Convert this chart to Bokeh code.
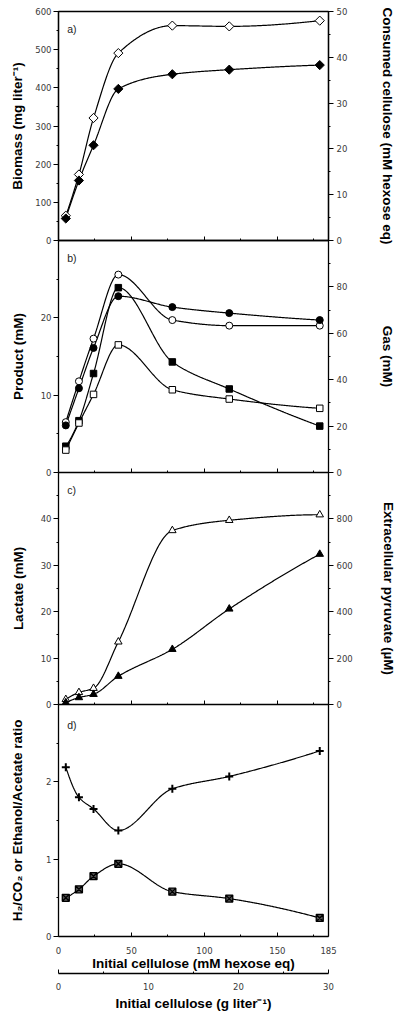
import numpy as np
from bokeh.plotting import figure
from bokeh.models import Range1d, LinearAxis, FixedTicker, Label
from bokeh.layouts import column
from bokeh.embed import file_html
from bokeh.resources import INLINE

# ---------------- data ----------------
cellulose_mM = [5, 14, 24, 41, 78, 117, 179]          # initial cellulose, mM hexose eq

# a) biomass (left) and consumed cellulose (right)
biomass_mg_l = [65, 173, 321, 491, 563, 561, 576]
consumed_mM = [4.8, 13.1, 20.8, 33.1, 36.3, 37.3, 38.3]

# b) products (left, mM) and gases (right, mM)
product_filled_sq = [3.4, 6.7, 12.8, 23.9, 14.3, 10.8, 6.0]
product_open_sq = [2.9, 6.4, 10.1, 16.5, 10.7, 9.5, 8.3]
gas_open_circle = [21.7, 39.3, 57.7, 85.3, 65.7, 63.3, 63.3]
gas_filled_circle = [20.3, 36.3, 53.7, 76.0, 71.3, 68.7, 65.7]

# c) lactate (left, mM) and extracellular pyruvate (right, uM)
lactate_mM = [0.4, 1.5, 2.2, 6.1, 11.9, 20.6, 32.4]
pyruvate_uM = [22, 52, 70, 270, 750, 794, 818]

# d) ratios
h2_co2_ratio = [2.19, 1.80, 1.65, 1.37, 1.91, 2.07, 2.40]
ethanol_acetate_ratio = [0.50, 0.61, 0.78, 0.94, 0.58, 0.49, 0.24]

x_ticks = [0, 50, 100, 150, 185]
x_minor = [25, 75, 125, 175]
gl_ticks = [0, 10, 20, 30]
gl_minor = [5, 15, 25]

TICK_FONT = "DejaVu Sans"
TICK_SIZE = "8.5px"
TICK_COLOR = "#3a3a3a"
TITLE_FONT = "Liberation Sans"
TITLE_SIZE = "13.5px"
W = 400


def pchip(x, y, n=300):
    x = np.asarray(x, float)
    y = np.asarray(y, float)
    h = np.diff(x)
    d = np.diff(y) / h
    m = np.zeros_like(y)
    for k in range(1, len(x) - 1):
        if d[k - 1] * d[k] > 0:
            w1 = 2 * h[k] + h[k - 1]
            w2 = h[k] + 2 * h[k - 1]
            m[k] = (w1 + w2) / (w1 / d[k - 1] + w2 / d[k])

    def end(h0, h1, d0, d1):
        mm = ((2 * h0 + h1) * d0 - h0 * d1) / (h0 + h1)
        if np.sign(mm) != np.sign(d0):
            mm = 0.0
        elif np.sign(d0) != np.sign(d1) and abs(mm) > abs(3 * d0):
            mm = 3 * d0
        return mm

    m[0] = end(h[0], h[1], d[0], d[1])
    m[-1] = end(h[-1], h[-2], d[-1], d[-2])
    xs = np.linspace(x[0], x[-1], n)
    idx = np.clip(np.searchsorted(x, xs) - 1, 0, len(h) - 1)
    t = (xs - x[idx]) / h[idx]
    h00 = 2 * t**3 - 3 * t**2 + 1
    h10 = t**3 - 2 * t**2 + t
    h01 = -2 * t**3 + 3 * t**2
    h11 = t**3 - t**2
    ys = h00 * y[idx] + h10 * h[idx] * m[idx] + h01 * y[idx + 1] + h11 * h[idx] * m[idx + 1]
    return xs, ys


def make_panel(height, yr, top, bottom, extra=None):
    p = figure(width=W, height=height, x_range=Range1d(0, 185), y_range=Range1d(*yr),
               x_axis_type=None, y_axis_type=None, output_backend="svg",
               toolbar_location=None, min_border_left=58, min_border_right=72,
               min_border_top=top, min_border_bottom=bottom,
               background_fill_color=None, border_fill_color=None,
               outline_line_color=None)
    p.grid.visible = False
    if extra is not None:
        p.extra_y_ranges = {"r": Range1d(*extra)}
    return p


def style(ax):
    ax.axis_line_color = "black"
    ax.axis_line_width = 1.3
    ax.major_tick_line_color = "black"
    ax.minor_tick_line_color = "black"
    ax.major_tick_line_width = 1
    ax.minor_tick_line_width = 1
    ax.major_label_text_font = TICK_FONT
    ax.major_label_text_font_size = TICK_SIZE
    ax.major_label_text_color = TICK_COLOR
    ax.axis_label_text_font = TITLE_FONT
    ax.axis_label_text_font_size = TITLE_SIZE
    ax.axis_label_text_font_style = "bold"
    ax.axis_label_text_color = "black"
    return ax


def left_axis(p, ticks, minor, label, standoff):
    ax = style(LinearAxis(ticker=FixedTicker(ticks=ticks, minor_ticks=minor),
                          axis_label=label, axis_label_standoff=standoff,
                          major_tick_in=0, major_tick_out=5,
                          minor_tick_in=0, minor_tick_out=2,
                          major_label_standoff=2))
    p.add_layout(ax, "left")


def right_axis(p, ticks, minor, label, standoff):
    ax = style(LinearAxis(y_range_name="r",
                          ticker=FixedTicker(ticks=ticks, minor_ticks=minor),
                          axis_label=label, axis_label_standoff=standoff,
                          major_tick_in=0, major_tick_out=5,
                          minor_tick_in=0, minor_tick_out=2,
                          major_label_standoff=3))
    p.add_layout(ax, "right")


def blank_bottom_axis(p):
    # shared boundary line between stacked panels: ticks only, no tick labels
    ax = style(LinearAxis(ticker=FixedTicker(ticks=x_ticks, minor_ticks=x_minor),
                          major_tick_in=4, major_tick_out=0,
                          minor_tick_in=2, minor_tick_out=0,
                          major_label_standoff=0))
    ax.major_label_text_color = None
    p.add_layout(ax, "below")


def panel_letter(p, text, y):
    p.add_layout(Label(x=6, y=y, text=text, text_baseline="middle",
                       text_font="Liberation Sans", text_font_size="10.5px",
                       text_color="#222222"))


def curve(p, y, **kw):
    xs, ys = pchip(cellulose_mM, y)
    p.line(xs, ys, line_color="black", line_width=1.2, **kw)


OPEN = dict(fill_color="white", line_color="black", line_width=1)
FILLED = dict(fill_color="black", line_color="black", line_width=1)

# ---------------- panel a ----------------
pa = make_panel(248, (0, 600), 11, 8, extra=(0, 50))
pa.outline_line_color = "black"
pa.outline_line_width = 1.3
left_axis(pa, list(range(0, 601, 100)), list(range(50, 600, 100)),
          "Biomass (mg liter\u207b\u00b9)", 7)
right_axis(pa, list(range(0, 51, 10)), list(range(5, 50, 10)),
           "Consumed cellulose (mM hexose eq)", 30)
blank_bottom_axis(pa)
curve(pa, biomass_mg_l)
curve(pa, consumed_mM, y_range_name="r")
pa.scatter(cellulose_mM, biomass_mg_l, marker="square", angle=np.pi / 4, size=6.5, **OPEN)
pa.scatter(cellulose_mM, consumed_mM, marker="square", angle=np.pi / 4, size=6.5,
           y_range_name="r", **FILLED)
panel_letter(pa, "a)", 555)

# ---------------- panel b ----------------
pb = make_panel(240, (0, 30), 0, 8, extra=(0, 100))
pb.margin = (-8, 0, 0, 0)
left_axis(pb, [0, 10, 20], [5, 15, 25], "Product (mM)", 12)
right_axis(pb, [0, 20, 40, 60, 80], [10, 30, 50, 70, 90], "Gas (mM)", 30)
blank_bottom_axis(pb)
curve(pb, product_filled_sq)
curve(pb, product_open_sq)
curve(pb, gas_open_circle, y_range_name="r")
curve(pb, gas_filled_circle, y_range_name="r")
pb.scatter(cellulose_mM, product_filled_sq, marker="square", size=6.5, **FILLED)
pb.scatter(cellulose_mM, product_open_sq, marker="square", size=6.5, **OPEN)
pb.scatter(cellulose_mM, gas_open_circle, marker="circle", size=7, y_range_name="r", **OPEN)
pb.scatter(cellulose_mM, gas_filled_circle, marker="circle", size=7, y_range_name="r", **FILLED)
panel_letter(pb, "b)", 27.8)

# ---------------- panel c ----------------
pc = make_panel(240, (0, 50), 0, 8, extra=(0, 1000))
pc.margin = (-8, 0, 0, 0)
left_axis(pc, [0, 10, 20, 30, 40], [5, 15, 25, 35, 45], "Lactate (mM)", 12)
right_axis(pc, [0, 200, 400, 600, 800], [100, 300, 500, 700, 900],
           "Extracellular pyruvate (\u00b5M)", 25)
blank_bottom_axis(pc)
curve(pc, lactate_mM)
curve(pc, pyruvate_uM, y_range_name="r")
pc.scatter(cellulose_mM, pyruvate_uM, marker="triangle", size=7.5, y_range_name="r", **OPEN)
pc.scatter(cellulose_mM, lactate_mM, marker="triangle", size=7.5, **FILLED)
panel_letter(pc, "c)", 46.3)

# ---------------- panel d ----------------
pd_ = make_panel(312, (0, 3), 0, 80)
pd_.margin = (-8, 0, 0, 0)
pd_.extra_x_ranges = {"gl": Range1d(0, 30)}
left_axis(pd_, [0, 1, 2], [0.5, 1.5, 2.5], "H\u2082/CO\u2082 or Ethanol/Acetate ratio", 18)
rax = style(LinearAxis(ticker=FixedTicker(ticks=[]), major_tick_out=0, major_tick_in=0,
                       minor_tick_out=0, minor_tick_in=0, major_label_standoff=0))
pd_.add_layout(rax, "right")

xa = style(LinearAxis(ticker=FixedTicker(ticks=x_ticks, minor_ticks=x_minor),
                      axis_label="Initial cellulose (mM hexose eq)",
                      major_tick_in=4, major_tick_out=0, minor_tick_in=2, minor_tick_out=0,
                      major_label_standoff=10, axis_label_standoff=-1))
pd_.add_layout(xa, "below")
xg = style(LinearAxis(x_range_name="gl",
                      ticker=FixedTicker(ticks=gl_ticks, minor_ticks=gl_minor),
                      axis_label="Initial cellulose (g liter\u207b\u00b9)",
                      major_tick_in=4, major_tick_out=0, minor_tick_in=2, minor_tick_out=0,
                      major_label_standoff=9, axis_label_standoff=3))
pd_.add_layout(xg, "below")

curve(pd_, h2_co2_ratio)
curve(pd_, ethanol_acetate_ratio)
pd_.scatter(cellulose_mM, h2_co2_ratio, marker="cross", size=8, line_color="black", line_width=2)
pd_.scatter(cellulose_mM, ethanol_acetate_ratio, marker="square_x", size=7,
            fill_color="#555555", line_color="black", line_width=1.3)
panel_letter(pd_, "d)", 2.73)

layout = column(pa, pb, pc, pd_, spacing=0)
open("out.html", "w").write(file_html(layout, INLINE))
